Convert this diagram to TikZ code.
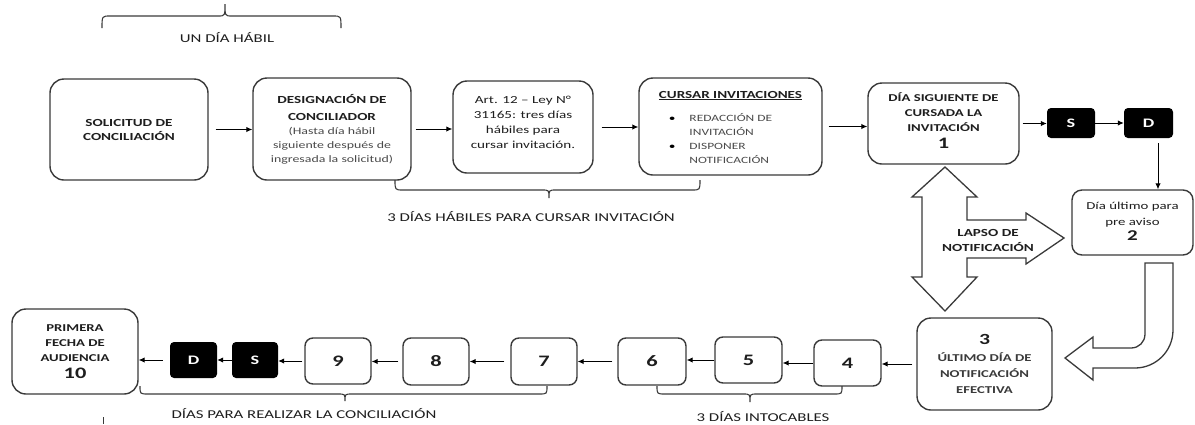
\documentclass[tikz,border=0pt]{standalone}
\usepackage{fontspec}
\setmainfont[FakeStretch=1.4]{Carlito}
\usetikzlibrary{arrows.meta}
\definecolor{boxc}{HTML}{3A3A3A}
\definecolor{txtg}{HTML}{4A4A4A}
\definecolor{txtd}{HTML}{1E1E1E}
\newcommand\bracepath[6]{%
  \draw[brc] (#1,#4) .. controls (#1,#5) .. (#1+8,#5) -- (#3-7,#5)
    .. controls (#3,#5) .. (#3,#6) .. controls (#3,#5) .. (#3+7,#5)
    -- (#2-8,#5) .. controls (#2,#5) .. (#2,#4);}
\begin{document}
\begin{tikzpicture}[x=1pt,y=-1pt,
  box/.style={draw=boxc, line width=1.4pt, rounded corners=14pt, fill=white, inner sep=0pt, align=center, text=txtd},
  sbox/.style={box, rounded corners=8pt, font=\fontsize{16}{18}\selectfont\bfseries},
  blk/.style={fill=black, rounded corners=4pt, inner sep=0pt, text=white, font=\fontsize{13}{15}\selectfont\bfseries},
  arr/.style={-{Latex[length=6pt,width=5.5pt]}, line width=1pt},
  brc/.style={draw=boxc, line width=1.1pt},
  lbl/.style={text=txtd, font=\fontsize{12}{14}\selectfont, text height=8pt, text depth=0pt, inner sep=0pt},
  bigarrow/.style={draw=boxc, line width=1.3pt, fill=white, line join=miter}]
\useasboundingbox (0,0) rectangle (1195,424);

% top row
\node[box, minimum width=158pt, minimum height=101pt, font=\fontsize{10.8}{14}\selectfont\bfseries] (sol) at (129,129.5) {SOLICITUD DE\\CONCILIACIÓN};
\node[box, minimum width=158pt, minimum height=102pt, font=\fontsize{10.8}{16}\selectfont\bfseries] (des) at (332,129)
  {DESIGNACIÓN DE\\[1pt]CONCILIADOR\\[-2pt]
   \fontsize{9.9}{13.5}\selectfont\mdseries\color{txtg}(Hasta día hábil\\[-2pt]
   \fontsize{9.9}{13.5}\selectfont\mdseries\color{txtg}siguiente después de\\[-2pt]
   \fontsize{9.9}{13.5}\selectfont\mdseries\color{txtg}ingresada la solicitud)};
\node[box, minimum width=140pt, minimum height=92pt, font=\fontsize{10.8}{15}\selectfont] (art) at (523,127)
  {Art. 12 – Ley N°\\31165: tres días\\hábiles para\\cursar invitación.\rule[-10pt]{0pt}{10pt}};
\node[box, minimum width=183pt, minimum height=97pt, font=\fontsize{10.8}{14}\selectfont] (cur) at (730.5,126.5)
  {\rule{0pt}{13pt}\bfseries\underline{CURSAR INVITACIONES}\\[10pt]
   \fontsize{9.6}{14.2}\selectfont\mdseries\color{txtg}\begin{tabular}{@{}l@{\hspace{14pt}}l@{\hspace{20pt}}}{\color{black}•}&REDACCIÓN DE\\&INVITACIÓN\\{\color{black}•}&DISPONER\\&NOTIFICACIÓN\end{tabular}};
\node[box, minimum width=151pt, minimum height=81pt, font=\fontsize{10.5}{15}\selectfont\bfseries] (dsig) at (943.5,123.5)
  {DÍA SIGUIENTE DE\\CURSADA LA\\INVITACIÓN\\[2pt]\fontsize{16}{18}\selectfont 1\rule[-6pt]{0pt}{6pt}};
\node[blk, minimum width=48pt, minimum height=30pt] (s1) at (1071,123) {S};
\node[blk, minimum width=49pt, minimum height=30pt] (d1) at (1148.5,123) {D};
\node[box, rounded corners=10pt, minimum width=121pt, minimum height=65pt, font=\fontsize{10.6}{16}\selectfont] (ult) at (1132.5,222.5)
  {Día último para\\pre aviso\\[-1pt]\bfseries\fontsize{15}{16}\selectfont 2\rule[-2pt]{0pt}{2pt}};

% bottom row
\node[box, minimum width=135pt, minimum height=92pt, font=\fontsize{10.5}{15}\selectfont\bfseries] (tres) at (984.5,364)
  {\fontsize{15.5}{16}\selectfont 3\\[2pt]\fontsize{10.5}{15}\selectfont\color{boxc}ÚLTIMO DÍA DE\\[1pt]\color{boxc}NOTIFICACIÓN\\[1pt]\color{boxc}EFECTIVA\rule[-1pt]{0pt}{1pt}};
\node[sbox, minimum width=67pt, minimum height=46pt] (b4) at (847.5,363) {4};
\node[sbox, minimum width=67pt, minimum height=46pt] (b5) at (748.5,360) {5};
\node[sbox, minimum width=68pt, minimum height=47pt] (b6) at (652,361.5) {6};
\node[sbox, minimum width=66pt, minimum height=47pt] (b7) at (544,361.5) {7};
\node[sbox, minimum width=66pt, minimum height=47pt] (b8) at (436,361.5) {8};
\node[sbox, minimum width=66pt, minimum height=46pt] (b9) at (338,361) {9};
\node[blk, minimum width=46pt, minimum height=36pt] (s2) at (255,360) {S};
\node[blk, minimum width=47pt, minimum height=36pt] (d2) at (193.5,360) {D};
\node[box, minimum width=126pt, minimum height=85pt, font=\fontsize{10.5}{15}\selectfont\bfseries] (prim) at (75,351.5)
  {PRIMERA\\FECHA DE\\AUDIENCIA\\[2pt]\fontsize{16}{18}\selectfont 10};

% connectors
\draw[arr, shorten <=7pt] (sol.east) -- (sol.east -| des.west);
\draw[arr, shorten <=4pt] (des.east) -- (des.east -| art.west);
\draw[arr, shorten <=8pt] (art.east) -- (art.east -| cur.west);
\draw[arr, shorten <=6pt] (cur.east) -- (cur.east -| dsig.west);
\draw[arr, shorten <=3pt] (dsig.east) -- (dsig.east -| s1.west);
\draw[arr] (s1.east) -- (s1.east -| d1.west);
\draw[arr, shorten <=5pt] ([xshift=9.5pt]d1.south) -- ([xshift=9.5pt]d1.south |- ult.north);
\draw[arr, shorten <=4pt] (tres.west) -- (tres.west -| b4.east);
\draw[arr] (b4.west) -- (b4.west -| b5.east);
\draw[arr] (b5.west) -- (b5.west -| b6.east);
\draw[arr, shorten <=5pt] (b6.west) -- (b6.west -| b7.east);
\draw[arr, shorten <=6pt] (b7.west) -- (b7.west -| b8.east);
\draw[arr, shorten <=4pt] (b8.west) -- (b8.west -| b9.east);
\draw[arr, shorten <=2pt] (b9.west) -- (b9.west -| s2.east);
\draw[arr] (s2.west) -- (s2.west -| d2.east);
\draw[arr, shorten <=7pt] (d2.west) -- (d2.west -| prim.east);

% block arrows
\draw[bigarrow] (945,167) -- (977,197) -- (967,197) -- (967,220) -- (1026,220) -- (1026,213) -- (1064,238)
  -- (1026,264) -- (1026,258) -- (967,258) -- (967,277) -- (977,277) -- (945,311) -- (912,277)
  -- (922,277) -- (922,197) -- (912,197) -- cycle;
\node[font=\fontsize{10.8}{15}\selectfont\bfseries, text=txtd, align=center, inner sep=0pt] (lapso) at (988,240.5) {LAPSO DE\\NOTIFICACIÓN};
\draw[bigarrow] (1145,263) -- (1173,263) -- (1173,330) .. controls (1173,351) and (1156,368) .. (1135,368)
  -- (1093,368) -- (1093,380) -- (1065,358) -- (1093,337) -- (1093,348) -- (1131,348)
  .. controls (1139,348) and (1145,342) .. (1145,334) -- cycle;

% braces and labels
\bracepath{102}{341}{225}{28}{16}{4}
\bracepath{395}{700}{549}{180}{190}{198}
\bracepath{140}{547}{345}{386}{394}{401}
\bracepath{657}{842}{750}{386}{394}{402}
\node[lbl] (l1) at (227,38) {UN DÍA HÁBIL};
\node[lbl] (l2) at (531,217) {3 DÍAS HÁBILES PARA CURSAR INVITACIÓN};
\node[lbl] (l3) at (304,414) {DÍAS PARA REALIZAR LA CONCILIACIÓN};
\node[lbl] (l4) at (763,417) {3 DÍAS INTOCABLES};
\draw[boxc, line width=1pt] (103,417) -- (103,424);
\end{tikzpicture}
\end{document}
